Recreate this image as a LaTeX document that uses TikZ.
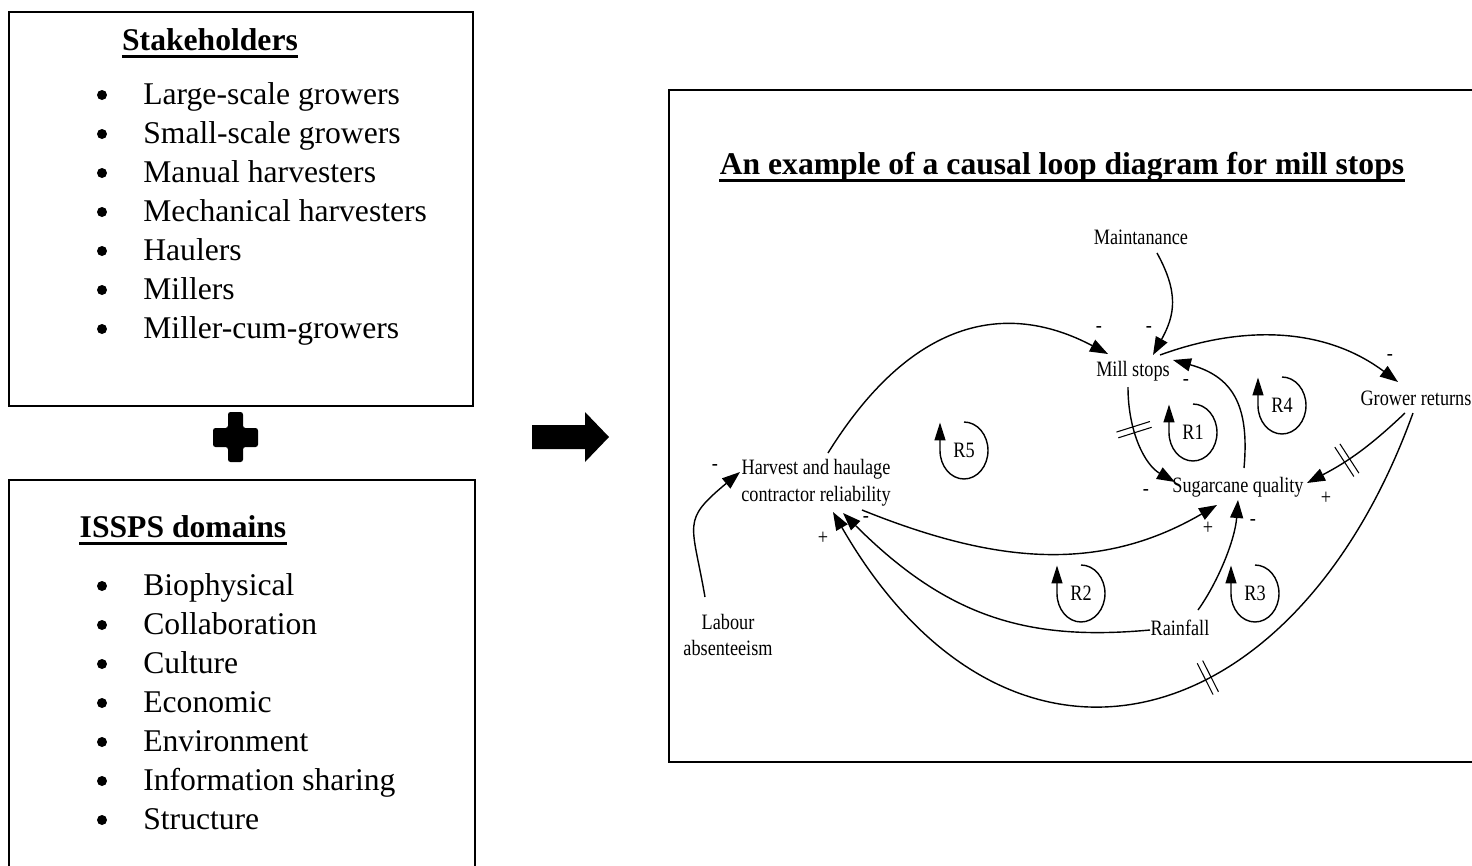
\documentclass[tikz,border=0pt]{standalone}
\usepackage{fontspec}
\setmainfont{Liberation Serif}
\newfontfamily\clfont[FakeStretch=0.83]{Liberation Serif}
\usetikzlibrary{arrows.meta, positioning}
\newcommand\delaymark{\rule[-0.35cm]{0.6pt}{0.7cm}\hspace{0.1cm}\rule[-0.35cm]{0.6pt}{0.7cm}}
\tikzset{
    x=0.02cm, y=-0.02cm, % one unit is one pixel of the layout, y runs down
    >={Triangle[length=3.6mm, width=2.6mm]}, % solid heads as in the loop diagram
    frame/.style={draw, line width=1.5pt},
    title/.style={font=\bfseries\fontsize{18}{21.6}\selectfont, inner sep=0, text depth=3.4pt, anchor=base},
    uline/.style={line width=1.4pt},
    item/.style={font=\fontsize{18}{21.6}\selectfont, inner sep=0, anchor=base west},
    dot/.style={circle, fill, inner sep=0, minimum size=0.2cm},
    var/.style={font=\clfont\fontsize{12.5}{15.3}\selectfont, inner sep=0, align=center},
    sign/.style={font=\clfont\fontsize{12.5}{15.3}\selectfont, inner sep=0},
    link/.style={->, line width=0.8pt},
    delay/.style={sloped, inner sep=0},
    loopmark/.style={->, line width=0.8pt, >={Triangle[length=3.6mm, width=2.2mm]}},
}

\begin{document}
\begin{tikzpicture}
\useasboundingbox (0,0) rectangle (1472,866);
\clip (0,0) rectangle (1472,866);

% stakeholders box
\draw[frame] (9,12) rectangle (473,406);
\node[title] (stk) at (210,50) {Stakeholders};
\draw[uline] (stk.south west) -- (stk.south east);
\foreach \txt [count=\i] in {Large-scale growers, Small-scale growers, Manual harvesters,
        Mechanical harvesters, Haulers, Millers, Miller-cum-growers}{
    \node[dot] (sb\i) at (102, 56+39*\i) {};
    \node[item] (st\i) at (143, 65+39*\i) {\txt};
}

% plus sign
\fill[rounded corners=0.05cm] (228,412) -- (243,412) -- (243,428) -- (258,428) -- (258,447)
    -- (243,447) -- (243,462) -- (228,462) -- (228,447) -- (213,447) -- (213,428) -- (228,428) -- cycle;

% domains box
\draw[frame] (9,480) rectangle (475,880);
\node[title] (dom) at (183,537) {ISSPS domains};
\draw[uline] (dom.south west) -- (dom.south east);
\foreach \txt [count=\i] in {Biophysical, Collaboration, Culture, Economic, Environment,
        Information sharing, Structure}{
    \node[dot] (db\i) at (102, 547+39*\i) {};
    \node[item] (dt\i) at (143, 556+39*\i) {\txt};
}

% big arrow
\fill (532,425) -- (585,425) -- (585,412) -- (609,437) -- (585,462) -- (585,449) -- (532,449) -- cycle;

% causal loop diagram
\draw[frame] (669,90) rectangle (1480,762);
\node[title] (cld) at (1062,174) {An example of a causal loop diagram for mill stops};
\draw[uline] (cld.south west) -- (cld.south east);

\node[var] (maint) at (1141,237) {Maintanance};
\node[var] (mill) at (1133,371) {Mill stops};
\node[var] (grower) at (1416,398) {Grower returns};
\node[var] (sugar) at (1238,487) {Sugarcane quality};
\node[var] (harvest) at (816,483) {Harvest and haulage\\contractor reliability};
\node[var] (labour) at (728,635) {Labour\\absenteeism};
\node[var] (rain) at (1180,628) {Rainfall};

\draw[link] ([shift={(16,16)}]maint.center) .. controls +(22,40) and +(22,-40) .. ([shift={(20,-16)}]mill.center);
\draw[link] ([shift={(12,-30)}]harvest.center) .. controls +(82,-132) and +(-104,-55) .. ([shift={(-25,-17)}]mill.center);
\draw[link] ([shift={(27,-16)}]mill.center) .. controls +(85,-31) and +(-72,-54) .. ([shift={(-18,-16)}]grower.center);
\draw[link] ([shift={(6,-19)}]sugar.center) .. controls +(6,-65) and +(58,16) .. ([shift={(40,-11)}]mill.center);
\draw[link] ([shift={(-5,16)}]mill.center) .. controls +(0,45) and +(-30,-17) .. ([shift={(-63,-5)}]sugar.center)
    node[delay, pos=0.35] {\delaymark};
\draw[link] ([shift={(-11,15)}]grower.center) to[bend left=8] node[delay, pos=0.63] {\delaymark} ([shift={(69,-4)}]sugar.center);
\draw[link] ([shift={(-3,15)}]grower.center) .. controls +(-119,329) and +(175,304) .. ([shift={(17,29)}]harvest.center)
    node[delay, pos=0.4] {\delaymark};
\draw[link] ([shift={(46,27)}]harvest.center) .. controls +(129,52) and +(-120,70) .. ([shift={(-21,18)}]sugar.center);
\draw[link] ([shift={(18,-18)}]rain.center) .. controls +(20,-28) and +(-3,40) .. ([shift={(0,13)}]sugar.center);
\draw[link] ([shift={(-30,2)}]rain.center) .. controls +(-120,11) and +(106,106) .. ([shift={(27,30)}]harvest.center);
\draw[link] ([shift={(-23,-38)}]labour.center) .. controls +(-13,-75) and +(-59,49) .. ([shift={(-76,-11)}]harvest.center);

% loop markers
\foreach \nm/\x/\y in {R1/1193/432, R2/1081/593, R3/1255/593, R4/1282/405, R5/964/450}{
    \node[var] (\nm) at (\x,\y) {\nm};
    \draw[loopmark] ([shift={(0,-28)}]\nm.center) arc[start angle=90, end angle=-180, x radius=0.48cm, y radius=0.57cm] -- ++(0,-28);
}

% polarities
\foreach \s/\x/\y [count=\i] in {-/1099/329, -/1149/329, -/1186/382, -/1390/357, -/1146/492, +/1326/498,
        +/1208/528, -/1253/522, -/866/519, +/823/538, -/715/467}{
    \node[sign] (p\i) at (\x,\y) {\s};
}
\end{tikzpicture}
\end{document}
